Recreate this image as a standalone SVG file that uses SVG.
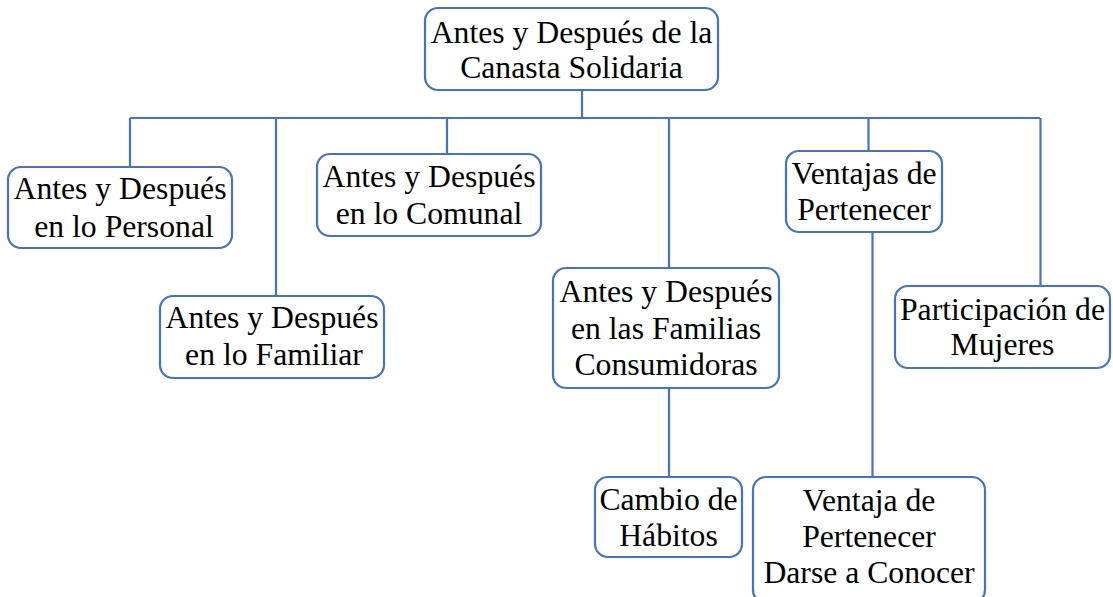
<svg xmlns="http://www.w3.org/2000/svg" width="1113" height="597" viewBox="0 0 1113 597" font-family="Liberation Serif, Times New Roman, serif" font-size="31.7" text-anchor="middle">
<style>
.box{fill:#ffffff;stroke:#4472C4;stroke-width:2.2}
.ln{fill:none;stroke:#4472C4;stroke-width:2.2}
</style>
<rect width="1113" height="597" fill="#ffffff"/>
<g id="connectors">
<path class="ln" d="M582 90V118M130 118H1040M130 118V167M276 118V296M447 118V154M669 118V268M868.5 118V151M1040.5 118V286M669 388V477M872.5 232V477"/>
</g>
<g id="n-root">
<rect class="box" x="425" y="8" width="293" height="82" rx="13"/>
<text x="571.5" y="43">Antes y Después de la</text>
<text x="571.5" y="78">Canasta Solidaria</text>
</g>
<g id="n-personal">
<rect class="box" x="8" y="167" width="224" height="81" rx="13"/>
<text x="120" y="199">Antes y Después</text>
<text x="124" y="237">en lo Personal</text>
</g>
<g id="n-familiar">
<rect class="box" x="160" y="296" width="224" height="82" rx="13"/>
<text x="272" y="328">Antes y Después</text>
<text x="274" y="365">en lo Familiar</text>
</g>
<g id="n-comunal">
<rect class="box" x="317" y="154" width="224" height="82" rx="13"/>
<text x="429" y="187">Antes y Después</text>
<text x="429" y="224">en lo Comunal</text>
</g>
<g id="n-familias">
<rect class="box" x="553" y="268" width="226" height="120" rx="13"/>
<text x="666" y="302">Antes y Después</text>
<text x="666" y="339">en las Familias</text>
<text x="666" y="375">Consumidoras</text>
</g>
<g id="n-cambio">
<rect class="box" x="595" y="477" width="147" height="80" rx="13"/>
<text x="668.5" y="510">Cambio de</text>
<text x="668.5" y="546">Hábitos</text>
</g>
<g id="n-ventajas">
<rect class="box" x="786" y="151" width="156" height="81" rx="13"/>
<text x="864" y="184">Ventajas de</text>
<text x="864" y="220">Pertenecer</text>
</g>
<g id="n-ventaja">
<rect class="box" x="753" y="477" width="232" height="126" rx="13"/>
<text x="869" y="511">Ventaja de</text>
<text x="869" y="547">Pertenecer</text>
<text x="869" y="583">Darse a Conocer</text>
</g>
<g id="n-mujeres">
<rect class="box" x="895" y="286" width="215" height="82" rx="13"/>
<text x="1002.5" y="320">Participación de</text>
<text x="1002.5" y="355">Mujeres</text>
</g>
</svg>
